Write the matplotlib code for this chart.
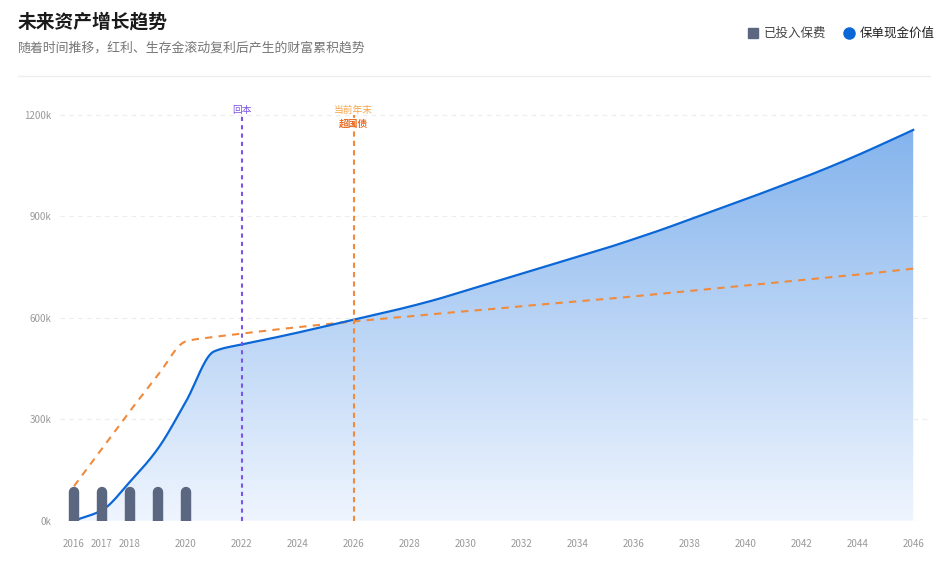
import numpy as np
import matplotlib
matplotlib.use("Agg")
import matplotlib.pyplot as plt
from matplotlib.patches import Rectangle
from matplotlib.colors import LinearSegmentedColormap

plt.rcParams['font.family'] = ['Noto Sans CJK SC', 'DejaVu Sans']

# data (values in k)
years = list(range(2016, 2047))
cash_value = [0, 31, 115, 213, 352, 500, 521, 538, 556, 575,
              594, 613, 633, 655, 680, 705, 730, 755, 780, 805,
              832, 860, 890, 920, 950, 981, 1012, 1045, 1080, 1117, 1155]
bond_line = [102, 213, 324, 430, 530, 543, 553, 563, 572, 581,
             589, 597, 604, 612, 619, 626, 634, 641, 648, 655,
             663, 671, 679, 687, 695, 703, 711, 719, 727, 736, 745]
premium_years = [2016, 2017, 2018, 2019, 2020]
premiums = [100, 100, 100, 100, 100]
xtick_years = [2016, 2017, 2018] + list(range(2020, 2047, 2))
yticks = [0, 300, 600, 900, 1200]
breakeven_year = 2022
current_year = 2026

BLUE = '#0b67d6'
ORANGE = '#f08a3c'
PURPLE = '#7c55e6'
BAR = '#5b6780'


def smooth(x, y, n=20):
    # monotone cubic curve through the points, like a "smooth" line option
    x = np.asarray(x, float)
    y = np.asarray(y, float)
    h = np.diff(x)
    d = np.diff(y) / h
    m = np.zeros_like(y)
    m[0], m[-1] = d[0], d[-1]
    for i in range(1, len(y) - 1):
        if d[i - 1] * d[i] > 0:
            w1 = 2 * h[i] + h[i - 1]
            w2 = h[i] + 2 * h[i - 1]
            m[i] = (w1 + w2) / (w1 / d[i - 1] + w2 / d[i])
    xs, ys = [], []
    for i in range(len(x) - 1):
        t = np.linspace(0, 1, n, endpoint=False)
        h00 = 2 * t**3 - 3 * t**2 + 1
        h10 = t**3 - 2 * t**2 + t
        h01 = -2 * t**3 + 3 * t**2
        h11 = t**3 - t**2
        xs.append(x[i] + t * h[i])
        ys.append(h00 * y[i] + h10 * h[i] * m[i] + h01 * y[i + 1] + h11 * h[i] * m[i + 1])
    xs.append([x[-1]])
    ys.append([y[-1]])
    return np.concatenate(xs), np.concatenate(ys)


fig = plt.figure(figsize=(9.49, 5.62), dpi=100)
ax = fig.add_axes([60 / 949, 1 - 520.7 / 562, 870 / 949, (520.7 - 94.4) / 562])
ax.set_xlim(2015.5, 2046.6)
ax.set_ylim(0, 1260)

# grid
for v in yticks:
    ax.axhline(v, color='#ececec', lw=0.8, ls=(0, (4, 4)), zorder=0)

cx, cy = smooth(years, cash_value)
bx, by = smooth(years, bond_line)

# gradient fill under cash value line
poly = ax.fill_between(cx, cy, 0, color='none', lw=0)
grad = np.linspace(0, 1, 256).reshape(-1, 1)
cmap = LinearSegmentedColormap.from_list('g', ['#eff5fe', '#80b1ec'])
img = ax.imshow(grad, extent=[2015.5, 2046.6, 0, 1200], origin='lower',
                aspect='auto', cmap=cmap, zorder=1)
img.set_clip_path(poly.get_paths()[0], transform=ax.transData)

ax.plot(cx, cy, color=BLUE, lw=1.6, zorder=4)
ax.plot(bx, by, color=ORANGE, lw=1.5, ls=(0, (3.5, 3)), zorder=3)

# premium bars with rounded tops
ax.vlines(premium_years, 0, [p - 14 for p in premiums], color=BAR,
          lw=7.5, capstyle='round', zorder=5)

# markers
ax.plot([breakeven_year, breakeven_year], [0, 1200], color=PURPLE,
        lw=1.5, ls=(0, (2, 2)), zorder=6)
ax.plot([current_year, current_year], [0, 1200], color=ORANGE,
        lw=1.5, ls=(0, (2.5, 2)), zorder=6)
ax.text(breakeven_year, 1214, '回本', color=PURPLE, fontsize=7,
        ha='center', va='center', zorder=7)
ax.text(current_year, 1214, '当前年末', color='#f5a54a', fontsize=7,
        ha='center', va='center', zorder=7)
ax.text(current_year, 1172, '超国债', color='#e8702a', fontsize=7,
        fontweight='bold', ha='center', va='center', zorder=7)

ax.set_yticks(yticks)
ax.set_yticklabels([f'{v}k' for v in yticks])
ax.set_xticks(xtick_years)
ax.set_xticklabels([str(y) for y in xtick_years])
ax.tick_params(axis='both', length=0, labelsize=7, colors='#999999')
ax.tick_params(axis='y', pad=6)
ax.tick_params(axis='x', pad=13)
for s in ax.spines.values():
    s.set_visible(False)

# header
fig.text(18 / 949, 1 - 22 / 562, '未来资产增长趋势', fontsize=13.5,
         fontweight='bold', color='#1a1a1a', va='center')
fig.text(18 / 949, 1 - 48 / 562, '随着时间推移，红利、生存金滚动复利后产生的财富累积趋势',
         fontsize=9.3, color='#777777', va='center')
fig.add_artist(plt.Line2D([18 / 949, 930 / 949], [1 - 76 / 562] * 2,
                          color='#eeeef0', lw=1))

# legend
fig.add_artist(Rectangle((748 / 949, 1 - 38 / 562), 10 / 949, 10 / 562,
                         color=BAR, transform=fig.transFigure))
fig.text(764 / 949, 1 - 33 / 562, '已投入保费', fontsize=9, color='#444444',
         va='center')
fig.add_artist(plt.Line2D([849 / 949], [1 - 33 / 562], marker='o',
                          markersize=8, color=BLUE, lw=0))
fig.text(860 / 949, 1 - 33 / 562, '保单现金价值', fontsize=9, color='#222222',
         va='center', fontweight='medium')

fig.savefig('out.png', dpi=100)
